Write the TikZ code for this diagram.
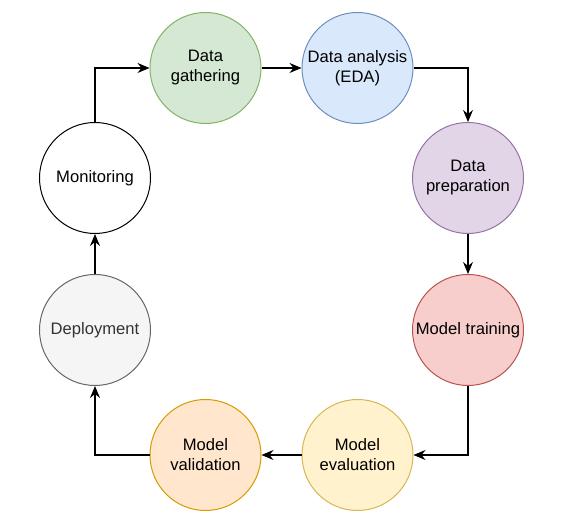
\documentclass[tikz,border=0pt]{standalone}
\usepackage{fontspec}
\setmainfont{Liberation Sans}
\usetikzlibrary{shapes, arrows.meta, positioning}
\definecolor{gatherfill}{HTML}{D5E8D4}
\definecolor{gatherline}{HTML}{82B366}
\definecolor{edafill}{HTML}{DAE8FC}
\definecolor{edaline}{HTML}{6C8EBF}
\definecolor{prepfill}{HTML}{E1D5E7}
\definecolor{prepline}{HTML}{9673A6}
\definecolor{trainfill}{HTML}{F8CECC}
\definecolor{trainline}{HTML}{B85450}
\definecolor{evalfill}{HTML}{FFF2CC}
\definecolor{evalline}{HTML}{D6B656}
\definecolor{validfill}{HTML}{FFE6CC}
\definecolor{validline}{HTML}{D79B00}
\definecolor{deployfill}{HTML}{F5F5F5}
\definecolor{deployline}{HTML}{666666}
\definecolor{deploytext}{HTML}{333333}
\tikzstyle{stage} = [circle, draw, line width=1pt, minimum size=111pt, inner sep=0pt, align=center, font=\fontsize{16.6}{20}\selectfont]
\tikzstyle{flow} = [-{Stealth[length=12pt, width=10pt, inset=4pt]}, line width=1.1pt]

\begin{document}
\begin{tikzpicture}[x=1pt, y=1pt]
  \useasboundingbox (0,0) rectangle (571,526);

  % Top row
  \node[stage, fill=gatherfill, draw=gatherline] (G) at (205.5,458) {Data\\gathering};
  \node[stage, fill=edafill, draw=edaline] (A) at (357.5,458) {Data analysis\\(EDA)};

  % Right column
  \node[stage, fill=prepfill, draw=prepline] (P) at (468,348) {Data\\preparation};
  \node[stage, fill=trainfill, draw=trainline] (T) at (468,196) {Model training};

  % Bottom row
  \node[stage, fill=evalfill, draw=evalline] (E) at (357.5,71) {Model\\evaluation};
  \node[stage, fill=validfill, draw=validline] (V) at (205.5,71) {Model\\validation};

  % Left column
  \node[stage, fill=deployfill, draw=deployline, text=deploytext] (D) at (95,196) {Deployment};
  \node[stage, fill=white, draw=black] (M) at (95,348) {Monitoring};

  % Cycle
  \draw[flow] (G) -- (A);
  \draw[flow] (A.east) -| (P.north);
  \draw[flow] (P) -- (T);
  \draw[flow] (T.south) |- (E.east);
  \draw[flow] (E) -- (V);
  \draw[flow] (V.west) -| (D.south);
  \draw[flow] (D) -- (M);
  \draw[flow] (M.north) |- (G.west);
\end{tikzpicture}
\end{document}
